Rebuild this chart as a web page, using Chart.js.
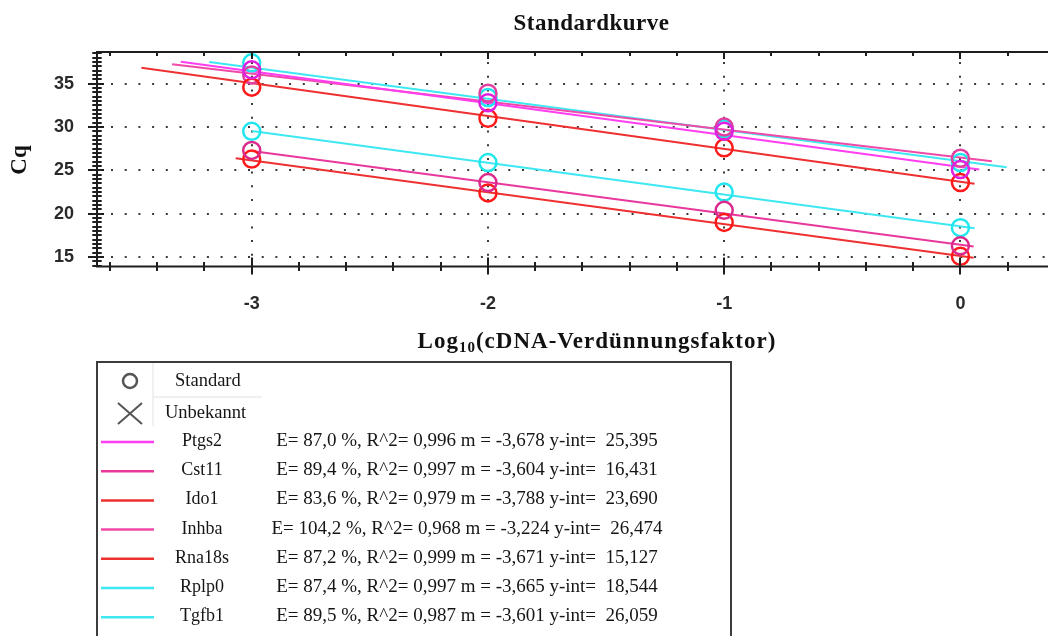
<!DOCTYPE html>
<html>
<head>
<meta charset="utf-8">
<script src="https://cdn.jsdelivr.net/npm/chart.js@4.4.1/dist/chart.umd.min.js"></script>
<style>
  html, body { margin: 0; padding: 0; background: #fff; overflow: hidden; }
  #wrap { position: relative; width: 1048px; height: 636px; overflow: hidden; }
  #c { position: absolute; left: 0; top: 0; }
  #legendBox { position: absolute; left: 96px; top: 361px; width: 632px; height: 320px;
    border: 2px solid #3c3c3c; }
  #legendSvg { position: absolute; left: 0; top: 0; }
  .lt { position: absolute; font-family: "Liberation Serif", "Times New Roman", serif;
    font-size: 17px; line-height: 20px; color: #151515; white-space: pre; }
  .sym { font-size: 18.5px; }
  .name { width: 100px; text-align: center; font-size: 18px; }
  .stats { width: 420px; text-align: center; font-size: 19px; }
</style>
</head>
<body>
<div id="wrap">
  <canvas id="c" width="1060" height="356"></canvas>
  <div id="legendBox"></div>
  <svg id="legendSvg" width="1048" height="636"></svg>
</div>
<script>
// standard curve data
const genes = ['Ptgs2', 'Cst11', 'Ido1', 'Inhba', 'Rna18s', 'Rplp0', 'Tgfb1'];
const efficiency = [87.0, 89.4, 83.6, 104.2, 87.2, 87.4, 89.5];
const rSquared = [0.996, 0.997, 0.979, 0.968, 0.999, 0.997, 0.987];
const slopes = [-3.678, -3.604, -3.788, -3.224, -3.671, -3.665, -3.601];
const intercepts = [25.395, 16.431, 23.690, 26.474, 15.127, 18.544, 26.059];

const dilutions = [-3, -2, -1, 0];
const cqPtgs2 = [36.6, 32.8, 29.5, 25.1];
const cqCst11 = [27.3, 23.6, 20.4, 16.3];
const cqIdo1 = [34.6, 31.0, 27.6, 23.6];
const cqInhba = [36.0, 33.9, 30.0, 26.4];
const cqRna18s = [26.3, 22.4, 19.0, 15.1];
const cqRplp0 = [29.5, 25.9, 22.5, 18.4];
const cqTgfb1 = [37.4, 33.4, 29.8, 25.9];
const cqAll = [cqPtgs2, cqCst11, cqIdo1, cqInhba, cqRna18s, cqRplp0, cqTgfb1];

// x range of each fitted line
const fitStart = [-3.3, -3.0, -3.467, -3.337, -3.068, -3.0, -3.18];
const fitEnd = [0.08, 0.056, 0.06, 0.133, 0.056, 0.06, 0.196];

const xTicks = [-3, -2, -1, 0];
const yTicks = [15, 20, 25, 30, 35];

const lineColors = ['#ff3ef0', '#e8389c', '#ee3030', '#f04aa8', '#ee3030', '#3ee8f2', '#3ee8f2'];
const pointColors = ['#e020e0', '#dc2a8c', '#ff1a1a', '#e040a0', '#ff1a1a', '#20e6ee', '#20e6ee'];

const fmt = (v, d) => v.toFixed(d).replace('.', ',');

const datasets = [];
genes.forEach((g, i) => {
  datasets.push({
    type: 'line',
    label: g,
    data: [fitStart[i], fitEnd[i]].map(x => ({ x: x, y: slopes[i] * x + intercepts[i] })),
    borderColor: lineColors[i],
    borderWidth: 2,
    pointRadius: 0,
    fill: false,
    order: 2
  });
});
genes.forEach((g, i) => {
  datasets.push({
    type: 'scatter',
    label: g + ' Standard',
    data: dilutions.map((x, k) => ({ x: x, y: cqAll[i][k] })),
    borderColor: pointColors[i],
    backgroundColor: 'rgba(0,0,0,0)',
    pointRadius: 8.5,
    pointBorderWidth: 2.5,
    order: 1
  });
});

// dotted grid, frame and the minor ticks of the old plot style
const axisDecor = {
  id: 'axisDecor',
  beforeDatasetsDraw(chart) {
    const { ctx, chartArea: a, scales: { x, y } } = chart;
    ctx.save();
    ctx.strokeStyle = '#3a3a3a';
    ctx.lineWidth = 2;
    ctx.setLineDash([2, 11.7]);
    yTicks.forEach(v => {
      const py = Math.round(y.getPixelForValue(v));
      ctx.beginPath(); ctx.moveTo(a.left + 14, py); ctx.lineTo(a.right, py); ctx.stroke();
    });
    xTicks.forEach(v => {
      const px = Math.round(x.getPixelForValue(v));
      ctx.beginPath(); ctx.moveTo(px, a.top + 10); ctx.lineTo(px, a.bottom); ctx.stroke();
    });
    ctx.restore();
  },
  afterDatasetsDraw(chart) {
    const { ctx, chartArea: a, scales: { x, y } } = chart;
    ctx.save();
    ctx.strokeStyle = '#1e1e1e';
    ctx.lineWidth = 2;
    ctx.beginPath();
    ctx.moveTo(a.right + 5, a.top); ctx.lineTo(a.left, a.top);
    ctx.lineTo(a.left, a.bottom); ctx.lineTo(a.right + 5, a.bottom);
    ctx.stroke();
    ctx.beginPath();
    for (let k = -18; k <= 2; k++) {
      const px = Math.round(x.getPixelForValue(k / 5));
      const major = k % 5 === 0;
      ctx.moveTo(px, a.bottom - (major ? 9 : 4.5)); ctx.lineTo(px, a.bottom + (major ? 8 : 4.5));
      ctx.moveTo(px, a.top - (major ? 1 : 0)); ctx.lineTo(px, a.top + (major ? 7 : 4));
    }
    for (let k = 28; k <= 77; k++) {
      const py = Math.round(y.getPixelForValue(k / 2));
      const major = k % 10 === 0;
      ctx.moveTo(a.left - (major ? 9 : 4.7), py); ctx.lineTo(a.left + (major ? 7 : 4.7), py);
    }
    ctx.stroke();
    ctx.restore();
  },
  afterDraw(chart) {
    const { ctx } = chart;
    ctx.save();
    ctx.fillStyle = '#111';
    ctx.textBaseline = 'alphabetic';
    ctx.textAlign = 'center';
    ctx.letterSpacing = '0.5px';
    ctx.font = 'bold 23px "Liberation Serif"';
    ctx.fillText('Standardkurve', 591.5, 30);

    // x axis title with subscript
    ctx.letterSpacing = '1px';
    ctx.textAlign = 'left';
    const main1 = 'Log', sub = '10', main2 = '(cDNA-Verdünnungsfaktor)';
    ctx.font = 'bold 23px "Liberation Serif"';
    const w1 = ctx.measureText(main1).width, w3 = ctx.measureText(main2).width;
    ctx.font = 'bold 15px "Liberation Serif"';
    const w2 = ctx.measureText(sub).width;
    let sx = 597 - (w1 + w2 + w3) / 2;
    ctx.font = 'bold 23px "Liberation Serif"';
    ctx.fillText(main1, sx, 348);
    ctx.font = 'bold 15px "Liberation Serif"';
    ctx.fillText(sub, sx + w1, 352);
    ctx.font = 'bold 23px "Liberation Serif"';
    ctx.fillText(main2, sx + w1 + w2, 348);

    ctx.letterSpacing = '0px';
    ctx.translate(26, 160);
    ctx.rotate(-Math.PI / 2);
    ctx.textAlign = 'center';
    ctx.fillText('Cq', 0, 0);
    ctx.restore();
  }
};

const tickFont = { family: '"Liberation Sans", Arial, sans-serif', weight: 'bold', size: 18 };

new Chart(document.getElementById('c'), {
  data: { datasets: datasets },
  options: {
    responsive: false,
    animation: false,
    events: [],
    layout: { padding: { left: 0, top: 52, right: 2, bottom: 0 } },
    plugins: { legend: { display: false }, title: { display: false }, tooltip: { enabled: false } },
    scales: {
      x: {
        type: 'linear',
        min: -3.655,
        max: 0.375,
        grid: { display: false, drawTicks: false },
        border: { display: false },
        afterBuildTicks: s => { s.ticks = xTicks.map(v => ({ value: v })); },
        afterFit: s => { s.height = 89.5; },
        ticks: { font: tickFont, color: '#2a2a2a', padding: 27 }
      },
      y: {
        type: 'linear',
        min: 13.92,
        max: 38.65,
        grid: { display: false, drawTicks: false },
        border: { display: false },
        afterBuildTicks: s => { s.ticks = yTicks.map(v => ({ value: v })); },
        afterFit: s => { s.width = 97; },
        ticks: { font: tickFont, color: '#2a2a2a', padding: 23 }
      }
    }
  },
  plugins: [axisDecor]
});

// legend panel
const wrap = document.getElementById('wrap');
const svg = document.getElementById('legendSvg');
const NS = 'http://www.w3.org/2000/svg';
function svgEl(tag, attrs) {
  const el = document.createElementNS(NS, tag);
  Object.keys(attrs).forEach(k => el.setAttribute(k, attrs[k]));
  svg.appendChild(el);
}
function addText(txt, cls, left, yc) {
  const d = document.createElement('div');
  d.className = 'lt ' + cls;
  d.textContent = txt;
  d.style.left = left + 'px';
  d.style.top = (yc - 11) + 'px';
  wrap.appendChild(d);
}
svgEl('line', { x1: 153, y1: 363, x2: 153, y2: 426, stroke: '#e2e2e2', 'stroke-width': 1 });
svgEl('line', { x1: 153, y1: 397, x2: 262, y2: 397, stroke: '#e2e2e2', 'stroke-width': 1 });
svgEl('circle', { cx: 130, cy: 381, r: 7, fill: 'none', stroke: '#555', 'stroke-width': 2.5 });
svgEl('path', { d: 'M118 403 L142 424 M142 403 L118 424', stroke: '#555', 'stroke-width': 2, fill: 'none' });
addText('Standard', 'sym', 175, 381);
addText('Unbekannt', 'sym', 165, 413);

genes.forEach((g, i) => {
  const yc = 441 + i * 29.2;
  svgEl('line', { x1: 101, y1: yc + 1, x2: 154, y2: yc + 1, stroke: lineColors[i], 'stroke-width': 2.5 });
  addText(g, 'name', 152, yc);
  const s = 'E= ' + fmt(efficiency[i], 1) + ' %, R^2= ' + fmt(rSquared[i], 3) +
    ' m = ' + fmt(slopes[i], 3) + ' y-int=  ' + fmt(intercepts[i], 3);
  addText(s, 'stats', 257, yc);
});
</script>
</body>
</html>
